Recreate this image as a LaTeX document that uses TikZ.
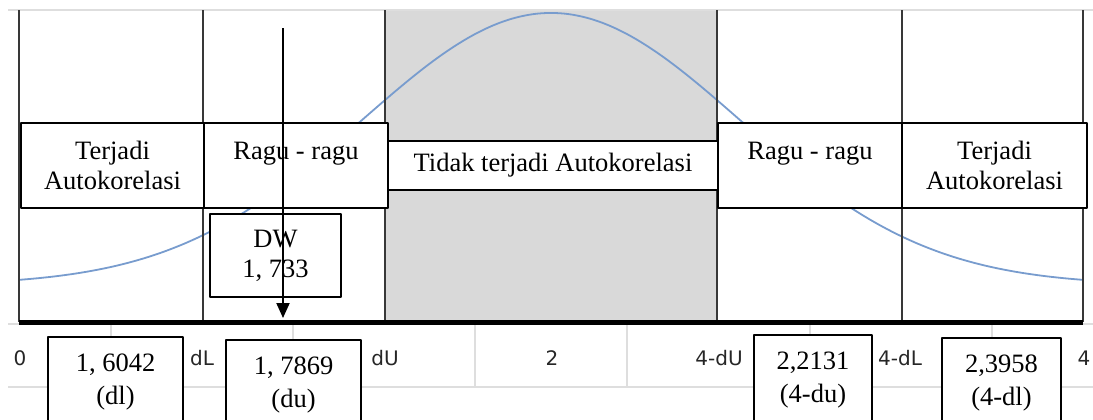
\documentclass[tikz,border=0pt]{standalone}
\usepackage{fontspec}
\setmainfont{Liberation Serif}
\newfontfamily\axisfont{DejaVu Sans}
\usetikzlibrary{arrows.meta}
\begin{document}
\begin{tikzpicture}[x=0.5pt, y=-0.5pt, line join=round,
    zone/.style={draw, line width=0.9pt, fill=white, align=center, inner sep=0pt,
      font=\fontsize{13.25}{15}\selectfont},
    valbox/.style={zone, anchor=north, minimum height=45pt,
      font=\fontsize{13.25}{16.5}\selectfont},
    ticklabel/.style={font=\axisfont\fontsize{10}{12}\selectfont, text=black!85, inner sep=0pt}]
  \definecolor{bandgray}{RGB}{217,217,217}
  \definecolor{curveblue}{RGB}{120,156,206}
  \definecolor{gridgray}{RGB}{222,222,222}
  \useasboundingbox (0,0) rectangle (1093,419);
  \clip (0,0) rectangle (1093,419);
  % shaded band
  \fill[bandgray] (385,10) rectangle (717,322);
  % light grid
  \draw[gridgray, line width=0.8pt] (8,10) -- (1093,10);
  \draw[gridgray, line width=0.8pt] (8,324) -- (1093,324) (8,387) -- (1093,387);
  \foreach \t in {111,293,475,627,810,992}
    \draw[gridgray, line width=0.8pt] (\t,324) -- (\t,387);
  % curve
  \draw[curveblue, line width=0.9pt, domain=19:1083, samples=120, smooth]
    plot (\x, {285-272*exp(0-((\x-551)/100)*((\x-551)/100)/7.139)});
  % zone borders
  \foreach \b in {19,203,385,717,902,1083}
    \draw[black!78, line width=1pt] (\b,10) -- (\b,322);
  \draw[line width=2.5pt] (19,322) -- (1083,322);
  % zones
  \node[zone, minimum width=91.5pt, minimum height=42.5pt] (terjadiL) at (112.5,165.5) {Terjadi\\Autokorelasi};
  \node[zone, minimum width=92pt, minimum height=42.5pt] (raguL) at (296,165.5) {Ragu - ragu\\\phantom{Autokorelasi}};
  \node[zone, minimum width=165pt, minimum height=24.5pt] (tidak) at (553,165.5) {Tidak terjadi Autokorelasi};
  \node[zone, minimum width=92pt, minimum height=42.5pt] (raguR) at (810,165.5) {Ragu - ragu\\\phantom{Autokorelasi}};
  \node[zone, minimum width=92.5pt, minimum height=42.5pt] (terjadiR) at (994.5,165.5) {Terjadi\\Autokorelasi};
  \node[zone, minimum width=65.5pt, minimum height=41.5pt] (dw) at (275.5,255.5) {DW\\1, 733};
  % table values
  \node[valbox, minimum width=67.5pt] (dl) at (115.5,336) {1, 6042\\(dl)};
  \node[valbox, minimum width=67.5pt] (du) at (293.5,339) {1, 7869\\(du)};
  \node[valbox, minimum width=59pt] (fdu) at (813,334) {2,2131\\(4-du)};
  \node[valbox, minimum width=59.5pt] (fdl) at (1001.5,337) {2,3958\\(4-dl)};
  % DW arrow
  \coordinate (dwstart) at (283,28);
  \coordinate (dwend) at (283,318);
  \draw[-{Triangle[length=7.5pt, width=6.5pt]}, line width=1pt] (dwstart) -- (dwend);
  \foreach \p/\lab in {20/0, 202/dL, 385/dU, 552/2, 719/4-dU, 900/4-dL, 1084/4}
    \node[ticklabel] (tick\p) at (\p,358) {\lab};
\end{tikzpicture}
\end{document}
